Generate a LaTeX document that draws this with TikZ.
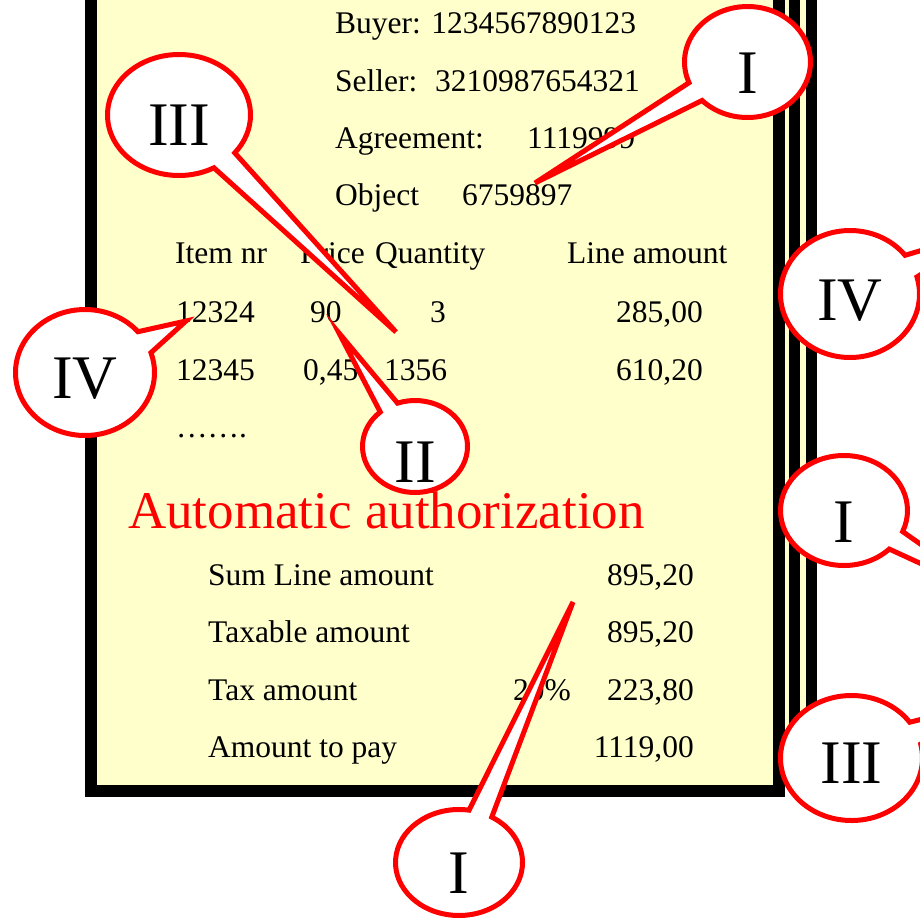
\documentclass[tikz,border=0pt]{standalone}
\usepackage{fontspec}
\setmainfont{Liberation Serif}
\usetikzlibrary{shapes.callouts}
\definecolor{paper}{RGB}{255,255,204}
\begin{document}
\begin{tikzpicture}[x=1pt,y=-1pt,
  txt/.style={anchor=base west,inner sep=0pt,font=\fontsize{31.5}{36}\selectfont},
  txtr/.style={txt,anchor=base east},
  bubble/.style={ellipse callout,draw=red,fill=white,line width=5pt,inner sep=0pt,outer sep=0pt,callout pointer arc=22},
  num/.style={anchor=base,inner sep=0pt,font=\fontsize{62}{70}\selectfont}]
\useasboundingbox (0,0) rectangle (920,922);
\clip (0,0) rectangle (920,922);
% stacked pages
\draw[line width=11pt,fill=paper] (120,-30) rectangle (811,745);
\draw[line width=11pt,fill=paper] (110,-30) rectangle (794.5,760);
\draw[line width=12pt,fill=paper] (91,-30) rectangle (779,791);
% header
\node[txt] (buyer) at (335,33) {Buyer: 1234567890123};
\node[txt] (seller) at (335,91) {Seller:};
\node[txt] (sellerv) at (435,91) {3210987654321};
\node[txt] (agr) at (335,148) {Agreement:};
\node[txt] (agrv) at (527,148) {1119999};
\node[txt] (obj) at (335,205) {Object};
\node[txt] (objv) at (462,205) {6759897};
% table
\node[txt] (h1) at (175,263) {Item nr};
\node[txt] (h2) at (300,263) {Price};
\node[txt] (h3) at (375,263) {Quantity};
\node[txt] (h4) at (567,263) {Line amount};
\node[txt] (r1a) at (176,322) {12324};
\node[txt] (r1b) at (310,322) {90};
\node[txt] (r1c) at (430,322) {3};
\node[txtr] (r1d) at (703,322) {285,00};
\node[txt] (r2a) at (176,380) {12345};
\node[txt] (r2b) at (303,380) {0,45};
\node[txt] (r2c) at (384,380) {1356};
\node[txtr] (r2d) at (703,380) {610,20};
\node[txt] (dots) at (176,437) {…….};
\node[txt,text=red,font=\fontsize{53}{60}\selectfont] (auto) at (128,528) {Automatic authorization};
% totals
\node[txt] (s1) at (208,585) {Sum Line amount};
\node[txtr] (s1v) at (694,585) {895,20};
\node[txt] (s2) at (208,642) {Taxable amount};
\node[txtr] (s2v) at (694,642) {895,20};
\node[txt] (s3) at (208,700) {Tax amount};
\node[txt] (s3p) at (513,700) {20\%};
\node[txtr] (s3v) at (694,700) {223,80};
\node[txt] (s4) at (208,757) {Amount to pay};
\node[txtr] (s4v) at (694,757) {1119,00};
% callout tips
\coordinate (pA) at (535,183);
\coordinate (pB) at (396,332);
\coordinate (pC) at (186,321);
\coordinate (pD) at (339,333);
\coordinate (pE) at (990,230);
\coordinate (pF) at (1000,600);
\coordinate (pG) at (1000,700);
\coordinate (pH) at (573,602);
% callouts
\node[bubble,minimum width=126pt,minimum height=111pt,callout absolute pointer={(pA)}] (cA) at (747.5,62) {};
\node[num] (tA) at (747.5,93) {I};
\node[bubble,minimum width=143pt,minimum height=121pt,callout absolute pointer={(pB)}] (cB) at (179,115) {};
\node[num] (tB) at (179,145) {III};
\node[bubble,minimum width=139pt,minimum height=126pt,callout absolute pointer={(pC)}] (cC) at (85,372.5) {};
\node[num] (tC) at (85,398) {IV};
\node[bubble,minimum width=105pt,minimum height=92pt,callout absolute pointer={(pD)}] (cD) at (415,446.5) {};
\node[num] (tD) at (415,482) {II};
\node[bubble,minimum width=139pt,minimum height=127pt,callout absolute pointer={(pE)}] (cE) at (850,294) {};
\node[num] (tE) at (850,320) {IV};
\node[bubble,minimum width=127pt,minimum height=110pt,callout absolute pointer={(pF)}] (cF) at (844,510.5) {};
\node[num] (tF) at (844,542) {I};
\node[bubble,minimum width=142pt,minimum height=125pt,callout absolute pointer={(pG)}] (cG) at (851.5,758) {};
\node[num] (tG) at (851.5,783) {III};
\node[bubble,minimum width=127pt,minimum height=106pt,callout absolute pointer={(pH)}] (cH) at (459,862.5) {};
\node[num] (tH) at (459,893) {I};
\end{tikzpicture}
\end{document}
